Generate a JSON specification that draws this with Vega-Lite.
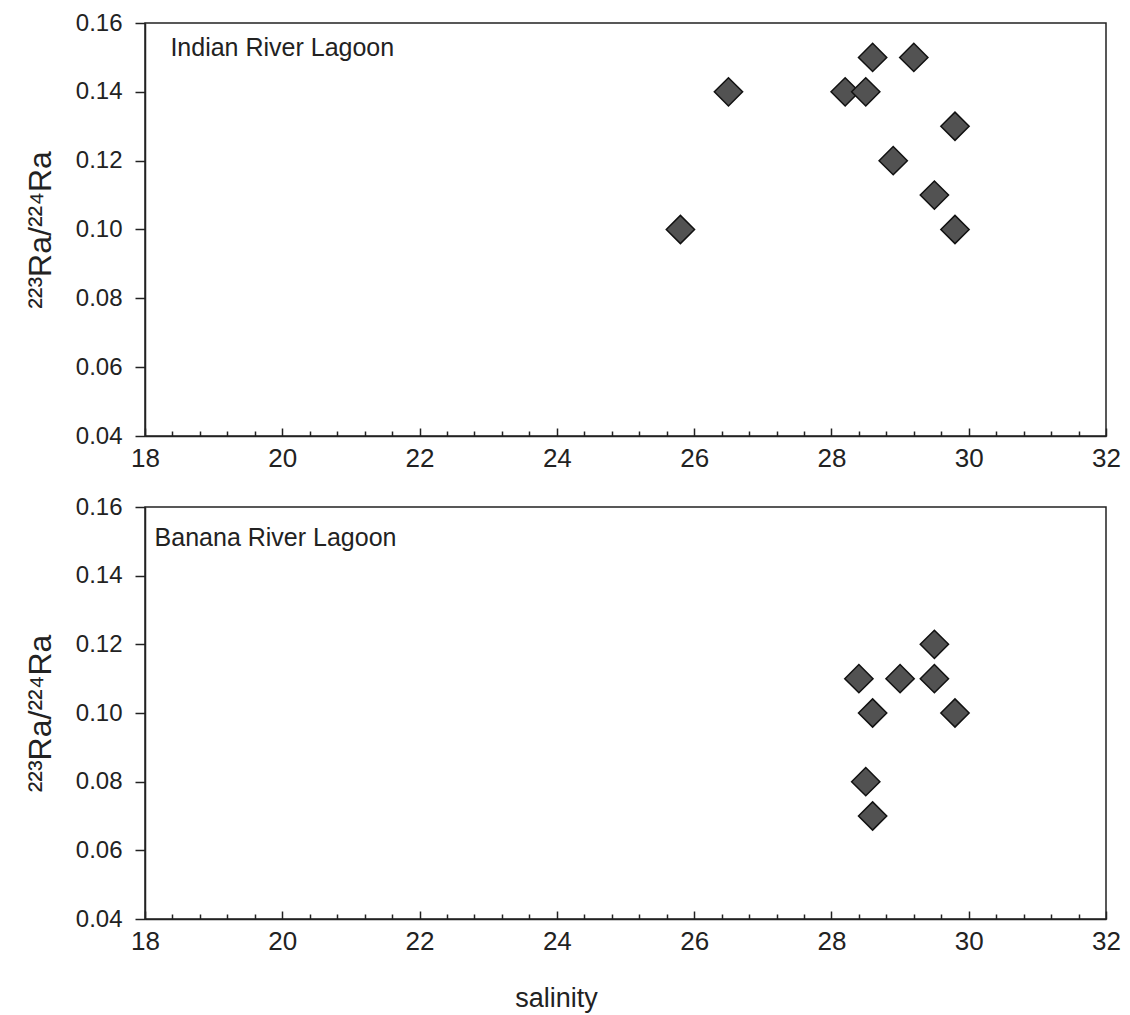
{
  "$schema": "https://vega.github.io/schema/vega-lite/v6.json",
  "background": "white",
  "padding": {"left": 23, "top": 10, "right": 5, "bottom": 2},
  "config": {
    "font": "Liberation Sans",
    "view": {"stroke": "#222", "strokeWidth": 1.5},
    "axis": {
      "domainColor": "#222", "domainWidth": 1.5, "tickColor": "#222", "tickWidth": 1.5,
      "labelColor": "#222", "labelFont": "Liberation Sans", "grid": false,
      "labelFlush": false, "labelOverlap": false, "titleColor": "#222", "titleFont": "Liberation Sans", "titleFontWeight": "normal"
    }
  },
  "datasets": {
    "indian": [
      {"salinity": 25.8, "ratio": 0.10},
      {"salinity": 26.5, "ratio": 0.14},
      {"salinity": 28.2, "ratio": 0.14},
      {"salinity": 28.5, "ratio": 0.14},
      {"salinity": 28.6, "ratio": 0.15},
      {"salinity": 29.2, "ratio": 0.15},
      {"salinity": 29.8, "ratio": 0.13},
      {"salinity": 28.9, "ratio": 0.12},
      {"salinity": 29.5, "ratio": 0.11},
      {"salinity": 29.8, "ratio": 0.10}
    ],
    "banana": [
      {"salinity": 29.5, "ratio": 0.12},
      {"salinity": 28.4, "ratio": 0.11},
      {"salinity": 29.0, "ratio": 0.11},
      {"salinity": 29.5, "ratio": 0.11},
      {"salinity": 28.6, "ratio": 0.10},
      {"salinity": 29.8, "ratio": 0.10},
      {"salinity": 28.5, "ratio": 0.08},
      {"salinity": 28.6, "ratio": 0.07}
    ]
  },
  "spacing": 19,
  "vconcat": [
    {
      "width": 961, "height": 413,
      "layer": [
        {
          "data": {"name": "indian"},
          "mark": {"type": "point", "shape": "diamond", "filled": true, "size": 800, "fill": "#525252", "stroke": "#111", "strokeWidth": 1.5, "opacity": 1, "fillOpacity": 1},
          "encoding": {
            "x": {"field": "salinity", "type": "quantitative",
              "scale": {"domain": [18, 32], "nice": false, "zero": false},
              "axis": {"title": null, "tickCount": 40, "labelFontSize": 26,
                "values": [18,18.4,18.8,19.2,19.6,20,20.4,20.8,21.2,21.6,22,22.4,22.8,23.2,23.6,24,24.4,24.8,25.2,25.6,26,26.4,26.8,27.2,27.6,28,28.4,28.8,29.2,29.6,30,30.4,30.8,31.2,31.6,32],
                "labelExpr": "abs(datum.value - round(datum.value/2)*2) < 0.01 ? format(datum.value, 'd') : ''",
                "tickSize": {"condition": {"test": "abs(datum.value - round(datum.value/2)*2) < 0.01", "value": -8}, "value": -5},
                "labelPadding": 17}},
            "y": {"field": "ratio", "type": "quantitative",
              "scale": {"domain": [0.04, 0.16], "nice": false, "zero": false},
              "axis": {"title": "²²³Ra/²²⁴Ra", "titleFontSize": 32, "titlePadding": 18, "labelFontSize": 24,
                "values": [0.04,0.06,0.08,0.10,0.12,0.14,0.16], "format": ".2f", "tickCount": 10,
                "tickSize": 10, "labelPadding": 13}}
          }
        },
        {
          "data": {"values": [{"label": "Indian River Lagoon"}]},
          "mark": {"type": "text", "align": "left", "baseline": "middle", "fontSize": 25, "font": "Liberation Sans", "color": "#222"},
          "encoding": {
            "text": {"field": "label"},
            "x": {"datum": 18.37},
            "y": {"datum": 0.1527}
          }
        }
      ]
    },
    {
      "width": 961, "height": 412,
      "layer": [
        {
          "data": {"name": "banana"},
          "mark": {"type": "point", "shape": "diamond", "filled": true, "size": 800, "fill": "#525252", "stroke": "#111", "strokeWidth": 1.5, "opacity": 1, "fillOpacity": 1},
          "encoding": {
            "x": {"field": "salinity", "type": "quantitative",
              "scale": {"domain": [18, 32], "nice": false, "zero": false},
              "axis": {"title": "salinity", "titleFontSize": 27, "titlePadding": 28, "titleX": 411, "titleAnchor": "middle", "tickCount": 40, "labelFontSize": 26,
                "values": [18,18.4,18.8,19.2,19.6,20,20.4,20.8,21.2,21.6,22,22.4,22.8,23.2,23.6,24,24.4,24.8,25.2,25.6,26,26.4,26.8,27.2,27.6,28,28.4,28.8,29.2,29.6,30,30.4,30.8,31.2,31.6,32],
                "labelExpr": "abs(datum.value - round(datum.value/2)*2) < 0.01 ? format(datum.value, 'd') : ''",
                "tickSize": {"condition": {"test": "abs(datum.value - round(datum.value/2)*2) < 0.01", "value": -8}, "value": -5},
                "labelPadding": 17}},
            "y": {"field": "ratio", "type": "quantitative",
              "scale": {"domain": [0.04, 0.16], "nice": false, "zero": false},
              "axis": {"title": "²²³Ra/²²⁴Ra", "titleFontSize": 32, "titlePadding": 18, "labelFontSize": 24,
                "values": [0.04,0.06,0.08,0.10,0.12,0.14,0.16], "format": ".2f", "tickCount": 10,
                "tickSize": 10, "labelPadding": 13}}
          }
        },
        {
          "data": {"values": [{"label": "Banana River Lagoon"}]},
          "mark": {"type": "text", "align": "left", "baseline": "middle", "fontSize": 25, "font": "Liberation Sans", "color": "#222"},
          "encoding": {
            "text": {"field": "label"},
            "x": {"datum": 18.14},
            "y": {"datum": 0.151}
          }
        }
      ]
    }
  ]
}
